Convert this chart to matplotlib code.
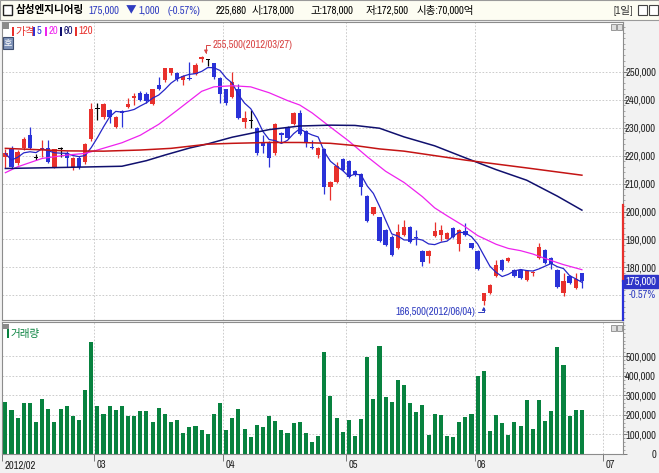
import matplotlib
matplotlib.use("Agg")
import matplotlib.pyplot as plt
import numpy as np
import pandas as pd
from matplotlib import font_manager
from matplotlib.patches import Rectangle
from matplotlib.ticker import AutoMinorLocator

# daily candles, prices in thousand won
opens = [219.6, 222.9, 217.4, 222.9, 227.3, 219.3, 222.2, 222.6, 216.0, 222.2,
         220.8, 215.8, 219.3, 217.8, 226.1, 236.6, 233.9, 236.3, 230.1, 235.8,
         237.5, 240.7, 242.5, 242.2, 238.3, 245.2, 247.0, 249.4, 249.4, 247.0,
         247.6, 249.2, 254.4, 254.2, 253.0, 247.6, 243.7, 241.1, 243.7, 232.1,
         232.3, 230.0, 224.6, 225.0, 220.8, 228.0, 230.3, 231.3, 235.3, 228.9,
         223.2, 220.2, 222.5, 208.9, 210.6, 218.8, 218.2, 214.5, 213.6, 205.5,
         199.1, 197.9, 193.4, 191.0, 186.8, 191.6, 194.5, 191.0, 186.0, 184.1,
         191.3, 191.6, 190.3, 194.0, 188.4, 193.2, 188.6, 185.8, 168.1, 170.9,
         176.8, 182.8, 182.2, 179.2, 179.2, 175.4, 177.9, 183.2, 186.2, 183.5,
         179.2, 170.7, 176.9, 172.5, 178.0]
highs = [222.5, 223.5, 222.0, 226.5, 230.1, 220.5, 225.6, 225.6, 222.5, 223.0,
         221.5, 219.5, 219.8, 224.5, 238.9, 238.9, 238.9, 236.8, 234.2, 236.2,
         240.5, 242.5, 243.0, 242.6, 244.0, 248.2, 251.5, 251.5, 250.0, 248.8,
         253.6, 253.0, 255.5, 254.5, 253.3, 248.0, 244.0, 250.0, 245.6, 236.0,
         236.2, 230.3, 227.3, 225.3, 231.6, 228.3, 230.6, 235.6, 236.3, 229.2,
         225.6, 223.2, 222.8, 211.0, 217.7, 219.2, 218.5, 214.8, 213.9, 205.8,
         201.8, 198.2, 193.8, 191.5, 195.5, 196.9, 194.8, 193.4, 186.3, 186.3,
         196.3, 195.2, 192.7, 194.3, 193.7, 195.8, 188.9, 186.1, 171.0, 174.0,
         182.7, 183.1, 183.7, 179.5, 179.5, 179.1, 178.7, 188.9, 186.5, 183.8,
         179.5, 178.1, 177.2, 178.1, 178.0]
lows = [215.7, 215.5, 216.5, 222.0, 222.5, 218.5, 219.5, 217.5, 215.5, 219.5,
        216.0, 215.0, 215.3, 217.0, 225.3, 232.7, 233.0, 231.8, 229.8, 230.1,
        237.0, 238.1, 239.5, 238.8, 238.0, 243.4, 246.5, 249.0, 246.8, 245.2,
        247.0, 248.8, 253.5, 252.0, 247.5, 238.7, 238.1, 240.5, 233.0, 230.0,
        230.0, 220.2, 220.8, 216.0, 220.2, 224.8, 226.0, 231.0, 227.3, 223.0,
        222.3, 219.0, 206.2, 204.3, 210.3, 214.5, 212.0, 212.7, 205.9, 196.3,
        198.8, 189.0, 187.5, 184.0, 186.5, 191.3, 188.9, 188.0, 180.4, 181.6,
        191.0, 189.4, 190.0, 190.5, 186.0, 191.3, 186.5, 179.1, 166.5, 170.6,
        176.5, 178.9, 181.9, 176.5, 175.9, 175.1, 176.8, 182.9, 181.4, 179.3,
        172.6, 169.7, 174.2, 172.2, 172.5]
closes = [220.8, 216.0, 221.4, 225.8, 222.9, 219.3, 222.9, 217.8, 222.2, 222.2,
          219.0, 219.0, 215.8, 224.1, 236.5, 236.6, 238.4, 233.7, 233.9, 235.3,
          238.4, 241.3, 239.9, 239.5, 243.7, 244.0, 251.2, 251.2, 247.3, 248.4,
          247.3, 252.4, 255.2, 254.2, 248.2, 242.2, 238.9, 246.2, 233.3, 233.3,
          232.3, 220.8, 223.4, 219.0, 231.3, 227.3, 226.4, 235.3, 227.7, 225.0,
          222.6, 222.8, 208.9, 210.6, 216.2, 214.8, 212.4, 213.0, 208.9, 196.6,
          201.5, 189.5, 188.0, 184.4, 192.8, 194.5, 189.2, 190.4, 182.0, 186.0,
          193.2, 193.4, 192.4, 190.8, 193.4, 191.6, 186.8, 179.4, 170.7, 173.7,
          180.7, 179.2, 183.4, 176.8, 176.2, 178.8, 178.4, 187.2, 181.7, 181.1,
          172.9, 175.1, 174.5, 176.0, 175.0]
# thousand shares
volumes = [267, 226, 184, 262, 262, 166, 283, 231, 166, 231,
           247, 195, 174, 329, 572, 247, 202, 247, 226, 247,
           195, 195, 221, 221, 166, 236, 202, 166, 174, 107,
           138, 143, 122, 102, 205, 262, 122, 184, 231, 128,
           86, 148, 138, 195, 169, 122, 107, 159, 164, 107,
           60, 91, 521, 298, 184, 112, 174, 91, 179, 495,
           283, 552, 293, 267, 376, 355, 262, 216, 252, 97,
           205, 200, 91, 86, 164, 190, 205, 397, 422, 117,
           200, 159, 97, 164, 143, 278, 128, 278, 169, 221,
           547, 453, 195, 226, 226]

# moving averages (candle index, value)
ma20_x = [0, 2, 6, 10, 13, 15, 19, 22, 25, 28, 32, 34, 37, 40, 43, 46, 48, 50,
          53, 56, 59, 62, 65, 68, 70, 72, 75, 77, 80, 82, 84, 86, 88, 91, 94]
ma20_y = [213.9, 216.0, 219.0, 220.2, 220.8, 222.0, 224.6, 227.3, 231.2, 236.2,
          243.0, 244.6, 245.0, 244.6, 242.5, 239.7, 238.1, 235.3, 230.2, 225.2,
          219.6, 214.4, 210.4, 205.3, 201.3, 198.5, 194.5, 191.4, 188.3, 186.8,
          186.0, 184.8, 183.2, 181.0, 179.2]
ma60_x = [0, 10, 19, 23, 26, 30, 33, 37, 43, 48, 53, 57, 61, 65, 70, 75, 80, 85, 90, 94]
ma60_y = [215.4, 215.8, 216.2, 218.2, 220.2, 222.7, 224.2, 226.6, 229.3, 230.6,
          230.9, 230.8, 229.8, 226.7, 223.5, 219.2, 215.0, 211.2, 205.5, 200.5]
ma120_x = [0, 10, 16, 22, 27, 33, 37, 43, 48, 53, 57, 61, 65, 75, 85, 94]
ma120_y = [222.6, 221.7, 221.6, 222.0, 222.6, 224.1, 224.4, 224.7, 224.7, 224.4,
           223.6, 222.4, 221.6, 218.4, 215.6, 213.0]

price_ticks = [180, 190, 200, 210, 220, 230, 240, 250]
price_grid = [170, 180, 190, 200, 210, 220, 230, 240, 250]
vol_ticks = [0, 100, 200, 300, 400, 500]
month_labels = ['2012/02', '03', '04', '05', '06', '07']
month_starts = [0, 15, 36, 56, 77, 98]
high_date = '2012/03/27'
low_date = '2012/06/04'
range_top = 202.3

W, H = 659, 473

# pick a narrow latin face if one is installed, else shrink the regular one
narrow, stretch, FS = 'Liberation Sans', 'normal', 6.6
for f in font_manager.fontManager.ttflist:
    if 'Narrow' in f.name or 'Condensed' in f.name:
        narrow, stretch, FS = f.name, 'normal', 7.6
        break
else:
    for f in font_manager.fontManager.ttflist:
        if f.name in ('DejaVu Sans', 'Noto Sans', 'Open Sans') and \
                f.stretch in ('condensed', 'semi-condensed') and f.weight in (400, 'normal'):
            narrow, stretch, FS = f.name, f.stretch, 7.2
            break
plt.rcParams['font.family'] = [narrow, 'Noto Sans CJK KR', 'DejaVu Sans']
plt.rcParams['font.stretch'] = stretch

RED = '#e8302c'
BLUE = '#2a32d8'
GREEN = '#08823f'
GRID = '#c4c4c4'
TXT_BLUE = '#2f3cc0'


def fx(px):
    return px / W


def fy(py):
    return 1 - py / H


fig = plt.figure(figsize=(W / 100, H / 100), dpi=100, facecolor='#f2f2f2')
ax = fig.add_axes([fx(2), fy(320), fx(623) - fx(2), fy(22) - fy(320)])
axv = fig.add_axes([fx(2), fy(454), fx(623) - fx(2), fy(322) - fy(454)])

o, h, l, c = map(np.array, (opens, highs, lows, closes))
x = np.arange(len(c))
col = np.where(c > o, RED, np.where(c < o, BLUE, 'black'))

# grid
for p in price_grid:
    ax.axhline(p, color=GRID, lw=0.6, ls=(0, (2, 2)), zorder=0)
for m in month_starts[1:-1]:
    ax.axvline(m - 0.5, color=GRID, lw=0.6, ls=(0, (2, 2)), zorder=0)
for v in vol_ticks[1:]:
    axv.axhline(v, color=GRID, lw=0.6, ls=(0, (2, 2)), zorder=0)
for m in month_starts[1:]:
    axv.axvline(m - 0.5, color=GRID, lw=0.6, ls=(0, (2, 2)), zorder=0)

# candles
ax.vlines(x, l, h, colors=col, lw=0.9, zorder=2)
ax.bar(x, np.maximum(np.abs(c - o), 0.35), bottom=np.minimum(o, c),
       width=0.7, color=col, lw=0, zorder=2)

# moving averages
ma5 = pd.Series(c).rolling(5, min_periods=1).mean()
ax.plot(x, ma5, color='#2626c8', lw=0.9, zorder=3)
ax.plot(ma20_x, ma20_y, color='#ee22ee', lw=0.9, zorder=3)
ax.plot(ma60_x, ma60_y, color='#10106e', lw=1.1, zorder=3)
ax.plot(ma120_x, ma120_y, color='#c41414', lw=1.1, zorder=3)

# high / low marks
ih, il = int(np.argmax(h)), int(np.argmin(l))
ax.annotate(f'{h[ih] * 1000:,.0f}({high_date})', xy=(ih + 0.7, h[ih] + 0.9),
            xytext=(ih + 1.8, h[ih] + 4.1), ha='left', va='center',
            color='#d84444', fontsize=FS,
            arrowprops=dict(arrowstyle='-|>', color='#d84444', lw=0.7,
                            mutation_scale=5, shrinkA=0, shrinkB=0,
                            connectionstyle='angle,angleA=180,angleB=90,rad=0'))
ax.annotate(f'{l[il] * 1000:,.0f}({low_date})', xy=(il, l[il] - 0.5),
            xytext=(il - 1.4, l[il] - 2.5), ha='right', va='center',
            color=TXT_BLUE, fontsize=FS,
            arrowprops=dict(arrowstyle='-|>', color=TXT_BLUE, lw=0.7,
                            mutation_scale=5, shrinkA=0, shrinkB=0,
                            connectionstyle='angle,angleA=0,angleB=-90,rad=0'))

# volume
axv.bar(x, volumes, width=0.66, color=GREEN, lw=0)

# axes limits, ticks
for a in (ax, axv):
    a.set_xlim(-0.55, 100.7)
    a.set_facecolor('white')
    a.yaxis.tick_right()
    a.yaxis.set_minor_locator(AutoMinorLocator(5))
    a.tick_params(axis='y', which='major', direction='out', length=3, width=0.6,
                  colors='#666666', labelcolor='#222222', labelsize=FS, pad=20.8)
    a.tick_params(axis='y', which='minor', direction='out', length=1.6, width=0.5,
                  colors='#888888')
    for s in a.spines.values():
        s.set_color('#8c8c8c')
        s.set_linewidth(0.8)

ax.set_ylim(161.2, 267.8)
ax.set_yticks(price_ticks)
ax.set_yticklabels([f'{t * 1000:,}' for t in price_ticks])
ax.set_xticks([])
axv.set_ylim(0, 675)
axv.set_yticks(vol_ticks)
axv.set_yticklabels([f'{v * 1000:,}' for v in vol_ticks])
for a in (ax, axv):
    for lbl in a.get_yticklabels():
        lbl.set_horizontalalignment('right')

axv.set_xticks([m - 0.5 for m in month_starts])
axv.tick_params(axis='x', direction='out', length=5, width=0.6, colors='#666666',
                labelbottom=False)
for m, lab in zip(month_starts, month_labels):
    axv.text(m - 0.1, -0.085, lab, transform=axv.get_xaxis_transform(),
             ha='left', va='center', fontsize=FS, color='#222222')

# current price on the axis
yt = ax.get_yaxis_transform()
ax.plot([1, 1], [range_top, c[-1]], color=RED, lw=1.6, transform=yt, clip_on=False, zorder=5)
ax.plot([1, 1], [c[-1], 161.2], color=BLUE, lw=1.6, transform=yt, clip_on=False, zorder=5)
ax.plot([1.003], [c[-1]], marker='<', ms=4, color=BLUE, transform=yt, clip_on=False)
ax.text(1 + 33 / 621, c[-1], f'{c[-1] * 1000:,.0f}', transform=yt, ha='right', va='center',
        fontsize=FS, color='white',
        bbox=dict(boxstyle='square,pad=0.15', fc='#2f35c8', ec='#2f35c8'))
chg = (c[-1] - c[-2]) / c[-2] * 100
ax.text(1 + 33 / 621, c[-1] - 4.8, f'{chg:.2f}%', transform=yt, ha='right', va='center',
        fontsize=FS, color=TXT_BLUE)

# header bar
fig.patches.append(Rectangle((0, fy(20)), 1, 20 / H, transform=fig.transFigure,
                             fc='#fdfdf2', ec='#9a9a9a', lw=0.8))
fig.patches.append(Rectangle((fx(3), fy(15)), 9 / W, 10 / H, transform=fig.transFigure,
                             fc='white', ec='#222222', lw=1))
head = [(16, '삼성엔지니어링', 'black', 'bold'),
        (88, f'{c[-1] * 1000:,.0f}', TXT_BLUE, 'normal'),
        (126, '▼', TXT_BLUE, 'normal'),
        (138, f'{(c[-2] - c[-1]) * 1000:,.0f}', TXT_BLUE, 'normal'),
        (168, f'({chg:.2f}%)', TXT_BLUE, 'normal'),
        (216, '225,680', 'black', 'normal'),
        (252, f'시:{o[-1] * 1000:,.0f}', 'black', 'normal'),
        (310, f'고:{h[-1] * 1000:,.0f}', 'black', 'normal'),
        (366, f'저:{l[-1] * 1000:,.0f}', 'black', 'normal'),
        (417, '시총:70,000억', 'black', 'normal'),
        (614, '[1일]', '#333333', 'normal')]
for px, s, color, wt in head:
    fig.text(fx(px), fy(10.5), s, ha='left', va='center', fontsize=FS, color=color,
             fontweight=wt)
for px in (638, 649):
    fig.patches.append(Rectangle((fx(px), fy(15)), 9 / W, 10 / H, transform=fig.transFigure,
                                 fc='white', ec='#444444', lw=0.8))

# legend of the price panel
fig.patches.append(Rectangle((fx(3), fy(29)), 6 / W, 6 / H, transform=fig.transFigure,
                             fc='#8a8a8a', ec='none'))
legend = [(12, '가격', RED), (33, '5', BLUE), (45, '20', '#ee22ee'),
          (60, '60', '#10106e'), (75, '120', RED)]
for px, s, color in legend:
    fig.patches.append(Rectangle((fx(px), fy(36)), 2 / W, 9 / H, transform=fig.transFigure,
                                 fc=color, ec='none'))
    fig.text(fx(px + 3.5), fy(31.5), s, ha='left', va='center', fontsize=FS, color=color)
fig.patches.append(Rectangle((fx(2.5), fy(49)), 10 / W, 12 / H, transform=fig.transFigure,
                             fc='#7f93b8', ec='#3e4e70', lw=0.8))
fig.text(fx(7.5), fy(43), '호', ha='center', va='center', fontsize=6.5, color='white')

# legend of the volume panel
fig.patches.append(Rectangle((fx(3), fy(329)), 6 / W, 5 / H, transform=fig.transFigure,
                             fc='#8a8a8a', ec='none'))
fig.patches.append(Rectangle((fx(7), fy(338)), 2 / W, 9 / H, transform=fig.transFigure,
                             fc=GREEN, ec='none'))
fig.text(fx(10.5), fy(333.5), '거래량', ha='left', va='center', fontsize=FS, color=GREEN)

# small window buttons
for py in (24, 325):
    for px in (611, 617):
        fig.patches.append(Rectangle((fx(px), fy(py + 6)), 5 / W, 6 / H,
                                     transform=fig.transFigure, fc='#dddddd',
                                     ec='#777777', lw=0.5))

fig.savefig('out.png', dpi=100)
